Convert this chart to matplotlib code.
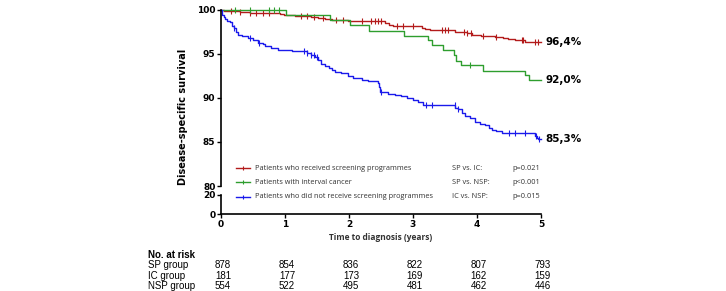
import numpy as np
import matplotlib.pyplot as plt
import matplotlib.transforms as mtransforms

# --- Kaplan-Meier step curves (years, survival %)
sp_t = [0, 0.05, 0.3, 0.45, 0.8, 0.92, 0.98, 1.15, 1.4, 1.52, 1.62, 1.73, 1.99, 2.56,
        2.62, 2.69, 3.14, 3.19, 3.27, 3.66, 3.76, 3.85, 3.92, 4.07, 4.28, 4.4, 4.49,
        4.59, 4.75, 5.0]
sp_s = [100, 99.9, 99.8, 99.7, 99.65, 99.6, 99.45, 99.3, 99.2, 99.1, 99.0, 98.9, 98.75,
        98.5, 98.35, 98.2, 98.0, 97.85, 97.7, 97.55, 97.45, 97.35, 97.2, 97.0, 96.9,
        96.8, 96.7, 96.55, 96.4, 96.4]
sp_cens = [0.15, 0.3, 0.45, 0.55, 0.65, 0.75, 1.25, 1.35, 1.45, 1.6, 1.8, 1.9, 2.2,
           2.35, 2.4, 2.45, 2.5, 2.75, 2.85, 3.0, 3.45, 3.5, 3.55, 3.8, 3.85, 3.9,
           4.1, 4.3, 4.7, 4.72, 4.9, 4.95]

ic_t = [0, 1.02, 1.7, 2.02, 2.31, 2.86, 3.23, 3.29, 3.47, 3.64, 3.67, 3.75, 4.09,
        4.75, 4.81, 5.0]
ic_s = [100, 99.4, 98.9, 98.3, 97.6, 97.1, 96.6, 96.0, 95.4, 94.9, 94.2, 93.7, 93.1,
        92.6, 92.0, 92.0]
ic_cens = [0.22, 0.45, 0.75, 0.83, 0.9, 3.89]

nsp_t = [0, 0.02, 0.04, 0.06, 0.1, 0.14, 0.17, 0.2, 0.24, 0.27, 0.33, 0.42, 0.5, 0.58,
         0.65, 0.69, 0.78, 0.89, 1.0, 1.11, 1.34, 1.4, 1.47, 1.52, 1.57, 1.63, 1.68,
         1.73, 1.78, 1.88, 1.98, 2.07, 2.2, 2.3, 2.45, 2.47, 2.48, 2.61, 2.72, 2.82,
         2.9, 3.0, 3.08, 3.16, 3.66, 3.7, 3.76, 3.82, 3.89, 3.97, 4.05, 4.13, 4.18,
         4.23, 4.3, 4.39, 4.9, 4.93, 4.96, 5.0]
nsp_s = [100, 99.4, 99.2, 99.0, 98.8, 98.6, 98.2, 97.9, 97.5, 97.2, 97.0, 96.8, 96.6,
         96.3, 96.1, 95.9, 95.7, 95.5, 95.4, 95.3, 95.1, 94.9, 94.7, 94.3, 93.9, 93.6,
         93.4, 93.2, 93.0, 92.8, 92.5, 92.3, 92.0, 91.9, 91.75, 91.2, 90.7, 90.5, 90.35,
         90.2, 90.0, 89.8, 89.5, 89.2, 88.9, 88.7, 88.3, 88.0, 87.7, 87.3, 87.1, 86.9,
         86.6, 86.4, 86.2, 86.0, 85.7, 85.5, 85.3, 85.3]
nsp_cens = [0.2, 0.45, 0.6, 1.3, 1.35, 1.4, 1.45, 1.5, 2.5, 3.2, 3.3, 3.65, 3.7,
            4.5, 4.6, 4.75, 4.92, 4.97]

end_labels = ['96,4%', '92,0%', '85,3%']
legend_labels = ['Patients who received screening programmes',
                 'Patients with interval cancer',
                 'Patients who did not receive screening programmes']
pvals_names = ['SP vs. IC:', 'SP vs. NSP:', 'IC vs. NSP:']
pvals = ['p=0.021', 'p<0.001', 'p=0.015']

risk_years = [0, 1, 2, 3, 4, 5]
risk_groups = ['SP group', 'IC group', 'NSP group']
risk_sp = [878, 854, 836, 822, 807, 793]
risk_ic = [181, 177, 173, 169, 162, 159]
risk_nsp = [554, 522, 495, 481, 462, 446]

colors = ['#b31b1b', '#2e9e2e', '#1a1aeb']

W, H = 726, 291
fig = plt.figure(figsize=(W / 100, H / 100), dpi=100)
x0, x1 = 221, 541
ax = fig.add_axes([x0 / W, 1 - 186 / H, (x1 - x0) / W, 176 / H])
axb = fig.add_axes([x0 / W, 1 - 214 / H, (x1 - x0) / W, 19 / H])


def step_val(t, s, x):
    i = np.searchsorted(t, x, side='right') - 1
    return np.array(s)[i]


curves = [(sp_t, sp_s, sp_cens), (ic_t, ic_s, ic_cens), (nsp_t, nsp_s, nsp_cens)]
for (t, s, c), col in zip(curves, colors):
    ax.step(t, s, where='post', color=col, lw=1.0, clip_on=False)
    ax.plot(c, step_val(t, s, c), ls='none', marker='|', ms=4, mew=0.8,
            color=col, clip_on=False)

ax.set_xlim(0, 5)
ax.set_ylim(80, 100)
ax.set_yticks([80, 85, 90, 95, 100])
ax.set_xticks([])
for sp in ['top', 'right', 'bottom']:
    ax.spines[sp].set_visible(False)
ax.spines['left'].set_linewidth(1.2)
ax.patch.set_visible(False)

axb.set_xlim(0, 5)
axb.set_ylim(0, 20)
axb.set_yticks([0, 20])
axb.set_xticks(risk_years)
for sp in ['top', 'right']:
    axb.spines[sp].set_visible(False)
axb.spines['left'].set_linewidth(1.2)
axb.spines['bottom'].set_linewidth(1.2)
axb.patch.set_visible(False)

for a in (ax, axb):
    a.tick_params(axis='both', direction='out', length=3, width=1, labelsize=6.5, pad=1)
    for lab in a.get_yticklabels() + a.get_xticklabels():
        lab.set_fontweight('bold')

# end labels
for (t, s, c), lab in zip(curves, end_labels):
    ax.text(5.07, s[-1], lab, fontsize=7.5, fontweight='bold', va='center', ha='left')

# y label
fig.text(183 / W, 1 - 117 / H, 'Disease-specific survival', rotation=90,
         fontsize=7, fontweight='bold', ha='center', va='center')

# legend and p-values
leg_y = [168, 182, 197]
for y, col, lab, nm, pv in zip(leg_y, colors, legend_labels, pvals_names, pvals):
    fig.add_artist(plt.Line2D([236 / W, 250 / W], [1 - y / H, 1 - y / H], color=col, lw=1))
    fig.add_artist(plt.Line2D([243 / W], [1 - y / H], color=col, marker='|', ms=3, mew=0.8))
    fig.text(255 / W, 1 - y / H, lab, fontsize=5.3, family='Open Sans',
             va='center', ha='left', color='#333333')
    fig.text(452 / W, 1 - y / H, nm, fontsize=5.3, family='Open Sans',
             va='center', ha='left', color='#333333')
    fig.text(540 / W, 1 - y / H, pv, fontsize=5.3, family='Open Sans',
             va='center', ha='right', color='#333333')

# x label
fig.text((x0 + x1) / 2 / W, 1 - 237 / H, 'Time to diagnosis (years)', fontsize=6.0,
         fontweight='bold', family='Open Sans', ha='center', va='center', color='#333333')

# number at risk table
trans = mtransforms.blended_transform_factory(axb.transData, fig.transFigure)
fig.text(148 / W, 1 - 255 / H, 'No. at risk', fontsize=7, fontweight='bold',
         family='Liberation Sans', ha='left', va='center')
for y, name, vals in zip([265, 276, 286], risk_groups, [risk_sp, risk_ic, risk_nsp]):
    fig.text(148 / W, 1 - y / H, name, fontsize=7, family='Liberation Sans',
             ha='left', va='center')
    for yr, v in zip(risk_years, vals):
        fig.text(yr + 0.03, 1 - y / H, str(v), transform=trans, fontsize=7,
                 family='Liberation Sans', ha='center', va='center')

fig.savefig('out.png', dpi=100)
